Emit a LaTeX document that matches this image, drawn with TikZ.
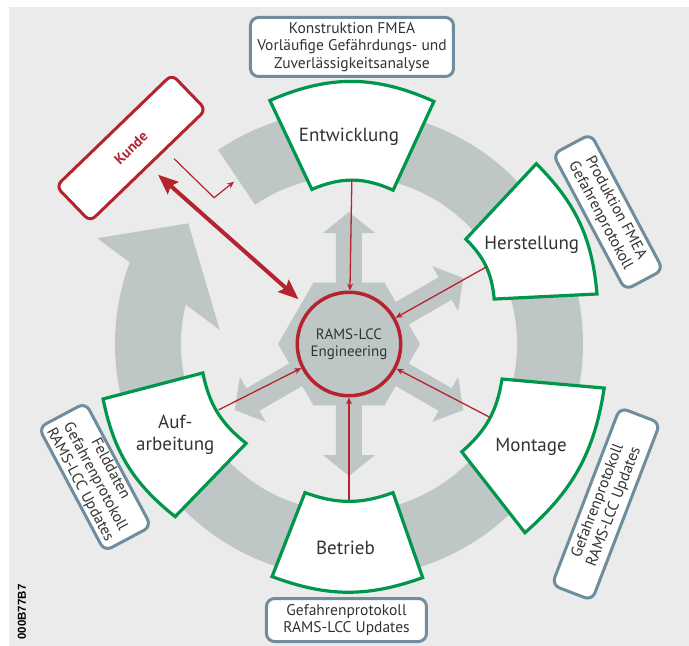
\documentclass[tikz,border=0pt]{standalone}
\usepackage{fontspec}
\setmainfont{PT Sans}
\newfontfamily\codefont{Liberation Sans}
\usepackage{tikz}
\usetikzlibrary{arrows.meta,calc}
\definecolor{bggray}{HTML}{EBEBEB}
\definecolor{ringgray}{HTML}{BFC7C6}
\definecolor{phasegreen}{HTML}{00964B}
\definecolor{kundered}{HTML}{B5232E}
\definecolor{boxblue}{HTML}{6F8D9C}
\definecolor{darktext}{HTML}{333333}

\begin{document}
\begin{tikzpicture}[x=1pt, y=1pt, every node/.style={text=darktext},
  phase/.style={draw=phasegreen, line width=3.2pt, fill=white},
  phaselabel/.style={font=\fontsize{19}{21.7}\selectfont, align=center},
  infobox/.style={draw=boxblue, line width=3pt, fill=white, rounded corners=8pt,
    align=center, inner sep=2pt, font=\fontsize{15.5}{17.2}\selectfont},
  redlink/.style={draw=kundered, line width=1.3pt, -{Stealth[length=7pt,width=6pt]}},
  spoke/.style={fill=ringgray}]
\useasboundingbox (-349,344) rectangle (340,-302);
\fill[bggray] (-340,337) rectangle (340,-302);

% cycle ring with arrow head
\fill[ringgray] (124:234) arc[start angle=124, end angle=-200.4, radius=234]
  -- (157.2:273) -- (143.1:201) -- (173.8:130) -- (-193.6:168)
  arc[start angle=-193.6, end angle=124, radius=168] -- cycle;

% hub and spokes
\fill[ringgray] (0:71) -- (60:71) -- (120:71) -- (180:71) -- (240:71) -- (300:71) -- cycle;
\fill[spoke, rotate=90] (0,13) -- (111,13) -- (111,26) -- (132,0) -- (111,-26) -- (111,-13) -- (0,-13) -- cycle;
\fill[spoke, rotate=30] (0,13) -- (111,13) -- (111,26) -- (132,0) -- (111,-26) -- (111,-13) -- (0,-13) -- cycle;
\fill[spoke, rotate=-30] (0,13) -- (111,13) -- (111,26) -- (132,0) -- (111,-26) -- (111,-13) -- (0,-13) -- cycle;
\fill[spoke, rotate=-90] (0,13) -- (111,13) -- (111,26) -- (132,0) -- (111,-26) -- (111,-13) -- (0,-13) -- cycle;
\fill[spoke, rotate=-150] (0,13) -- (111,13) -- (111,26) -- (132,0) -- (111,-26) -- (111,-13) -- (0,-13) -- cycle;

\node[circle, draw=kundered, line width=3.5pt, fill=ringgray, minimum size=103.5pt, inner sep=0pt,
  align=center, font=\fontsize{15}{17.3}\selectfont] (rams) at (0,0) {RAMS-LCC\\Engineering};

% phases
\draw[phase] (103.5:159) to[bend left=24] (74:160) -- (70.7:257) to[bend right=24] (108:256) -- cycle;
\node[phaselabel] (entw) at (90:207) {Entwicklung};
\coordinate (entw-in) at (89:165);

\draw[phase] (41.9:157) to[bend left=20] (17.2:152) -- (11.4:253) to[bend right=20] (43.9:260) -- cycle;
\node[phaselabel] (herst) at (28.5:208) {Herstellung};
\coordinate (herst-in) at (29.3:158);

\draw[phase] (-12.9:157) to[bend left=20] (-43.7:156) -- (-47:258) to[bend right=20] (-9.8:259) -- cycle;
\node[phaselabel] (mont) at (-29.4:209) {Montage};
\coordinate (mont-in) at (-27.5:159);

\draw[phase] (-73.5:155) to[bend left=20] (-106.5:155) -- (-108.3:245) to[bend right=20] (-72.5:245) -- cycle;
\node[phaselabel] (betr) at (-91:204) {Betrieb};
\coordinate (betr-in) at (-90:156);

\draw[phase] (-136:143) to[bend left=20] (-168.8:149) -- (-167.4:252) to[bend right=20] (-135.2:245) -- cycle;
\node[phaselabel] (aufarb) at (-152.4:196) {Auf-\\arbeitung};
\coordinate (aufarb-in) at (-153.2:146);

\draw[redlink] (entw-in) -- (rams);
\draw[redlink] (herst-in) -- (rams);
\draw[redlink] (mont-in) -- (rams);
\draw[redlink] (betr-in) -- (rams);
\draw[redlink] (aufarb-in) -- (rams);

% documents per phase
\node[infobox, minimum width=203, minimum height=59] (konstr) at (3,297)
  {Konstruktion FMEA\\Vorläufige Gefährdungs- und\\Zuverlässigkeitsanalyse};
\node[infobox, rotate=-62, minimum width=154, minimum height=43] (prodbox) at (259,132)
  {Produktion FMEA\\Gefahrenprotokoll};
\node[infobox, rotate=69, minimum width=190, minimum height=43] (montbox) at (257,-160)
  {Gefahrenprotokoll\\RAMS-LCC Updates};
\node[infobox, minimum width=160, minimum height=43] (betrbox) at (-2.5,-276)
  {Gefahrenprotokoll\\RAMS-LCC Updates};
\node[infobox, rotate=-62, minimum width=140, minimum height=53] (feldbox) at (-254,-133)
  {Felddaten\\Gefahrenprotokoll\\RAMS-LCC Updates};

% customer
\node[draw=kundered, line width=3pt, fill=white, rounded corners=7pt, rotate=44,
  minimum width=161, minimum height=49, text=kundered,
  font=\fontsize{14.5}{16}\selectfont\bfseries] (kunde) at (-218,196) {Kunde};
\draw[kundered, line width=4pt, shorten <=12pt, shorten >=14pt,
  {Stealth[length=20pt,width=16pt,inset=3pt]}-{Stealth[length=20pt,width=16pt,inset=3pt]}] (kunde.south) -- (rams);
\draw[redlink, line width=1.2pt] ([shift={(25,8)}]kunde.south) -- ++(40,-39) -- ++(20,16);

\node[rotate=90, text=black, font=\codefont\bfseries\fontsize{11.5}{13}\selectfont] (code) at (-327,-268) {000B77B7};
\end{tikzpicture}
\end{document}
